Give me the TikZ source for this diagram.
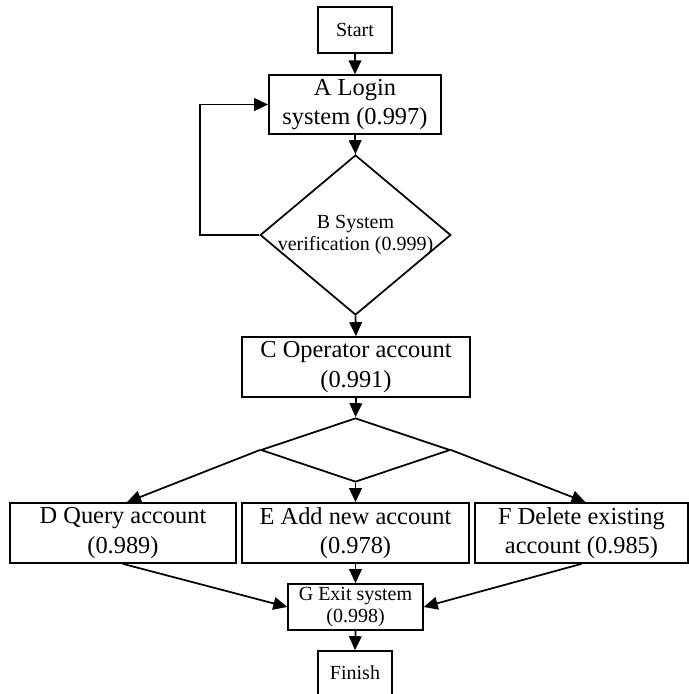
\documentclass[tikz,border=0pt]{standalone}
\usepackage{fontspec}
\setmainfont{Liberation Serif}
\usetikzlibrary{arrows.meta,shapes.geometric}
\begin{document}
\begin{tikzpicture}[x=0.75pt,y=-0.75pt,
  line width=1.3pt,
  arr/.style={-{Triangle[length=10.5pt,width=9.5pt]}},
  bigbox/.style={draw,rectangle,inner sep=0pt,align=center,
    font=\fontsize{18.3}{21.8}\selectfont},
  smallbox/.style={draw,rectangle,inner sep=0pt,align=center,
    font=\fontsize{15}{17}\selectfont},
  decision/.style={draw,diamond,inner sep=0pt}]
\useasboundingbox (0,0) rectangle (689,694);

% process steps
\node[smallbox,minimum width=55.5pt,minimum height=34.5pt] (start) at (355,30) {Start};
\node[bigbox,minimum width=129pt,minimum height=44pt] (A) at (355,104.5) {A Login\\system (0.997)};
\node[decision,minimum width=143pt,minimum height=120pt,
  label={[font=\fontsize{15}{17}\selectfont,align=center]center:B System\\verification (0.999)}] (B) at (355.5,235) {};
\node[bigbox,minimum width=171pt,minimum height=45pt] (C) at (356,367) {C Operator account\\(0.991)};
\node[decision,minimum width=142pt,minimum height=48pt] (fork) at (355.5,450) {};
\node[bigbox,minimum width=169.5pt,minimum height=45pt] (D) at (123,533) {D Query account\\(0.989)};
\node[bigbox,minimum width=170pt,minimum height=45pt] (E) at (355.5,533) {E Add new account\\(0.978)};
\node[bigbox,minimum width=160pt,minimum height=45pt] (F) at (581.5,533) {F Delete existing\\account (0.985)};
\node[smallbox,minimum width=101pt,minimum height=34.5pt] (G) at (355.5,607) {G Exit system\\(0.998)};
\node[smallbox,minimum width=55.5pt,minimum height=33pt] (finish) at (355,673) {Finish};

\coordinate (loop) at (200,235);

% connectors
\draw[arr] (start.south) -- (A.north);
\draw[arr] (A.south) -- (B.north);
\draw[arr] (B.west) -- (loop) |- (A.west);
\draw[arr] (B.south) -- (C.north);
\draw[arr] (C.south) -- (fork.north);
\draw[arr] (fork.west) -- ([xshift=3pt]D.north);
\draw[arr] (fork.south) -- (E.north);
\draw[arr] (fork.east) -- ([xshift=3pt]F.north);
\draw[arr] (D.south) -- (G.west);
\draw[arr] (E.south) -- (G.north);
\draw[arr] (F.south) -- (G.east);
\draw[arr] (G.south) -- (finish.north);
\end{tikzpicture}
\end{document}
